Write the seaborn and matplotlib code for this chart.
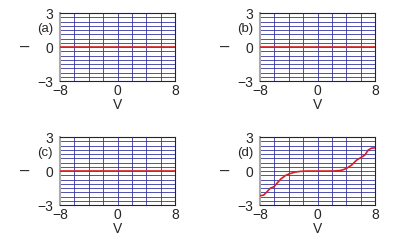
import numpy as np
import pandas as pd
import matplotlib
matplotlib.use("Agg")
import matplotlib.pyplot as plt
from matplotlib.ticker import MultipleLocator
import seaborn as sns

# 4パネル共通の電圧軸
voltage = [-8, -7.5, -7, -6.6, -6.05, -5.7, -5.1, -4.5, -3.9, -3.1, -2.4, -1.5, -0.5,
           0, 0.5, 1.5, 2.4, 3.1, 3.6, 4.05, 4.75, 5.45, 6.05, 6.6, 7.05, 7.5, 8]

# パネル (a)(b)(c) はゼロ、(d) は階段状の曲線
current_a = [0.0] * len(voltage)
current_b = [0.0] * len(voltage)
current_c = [0.0] * len(voltage)
current_d = [-2.18, -2.13, -1.82, -1.53, -1.38, -1.12, -0.7, -0.41, -0.24, -0.09, -0.03,
             0.0, 0.0, 0.0, 0.0, 0.0, 0.01, 0.04, 0.12, 0.24, 0.53, 0.97, 1.2, 1.42,
             1.85, 2.02, 2.05]

panel_labels = ["(a)", "(b)", "(c)", "(d)"]
x_ticks = [-8, 0, 8]
y_ticks = [-3, 0, 3]

sns.set_style("white")
plt.rcParams['font.family'] = ['Liberation Sans', 'DejaVu Sans']
plt.rcParams['axes.unicode_minus'] = True

fig = plt.figure(figsize=(4, 2.47), dpi=100)

# 各パネルの位置 [left, bottom, width, height]（図の比率）
positions = [
    [0.15, 0.672, 0.2875, 0.275],
    [0.65, 0.672, 0.2875, 0.275],
    [0.15, 0.170, 0.2875, 0.275],
    [0.65, 0.170, 0.2875, 0.275],
]

grid_color = '#3434a0'
all_currents = [current_a, current_b, current_c, current_d]

for pos, label, cur in zip(positions, panel_labels, all_currents):
    ax = fig.add_axes(pos)
    df = pd.DataFrame({'V': voltage, 'I': cur})
    sns.lineplot(data=df, x='V', y='I', ax=ax, color='#d42020', linewidth=1.2, zorder=3)

    ax.set_xlim(-8, 8)
    ax.set_ylim(-3, 3)
    ax.set_xticks(x_ticks)
    ax.set_yticks(y_ticks)
    ax.xaxis.set_minor_locator(MultipleLocator(2))
    ax.yaxis.set_minor_locator(MultipleLocator(0.375))
    ax.grid(True, which='both', color=grid_color, linewidth=0.6)
    ax.tick_params(which='both', length=0, labelsize=10)
    ax.tick_params(axis='y', pad=5)
    ax.tick_params(axis='x', pad=2)

    for side in ['top', 'right', 'bottom']:
        ax.spines[side].set_color('#202050')
        ax.spines[side].set_linewidth(0.8)
    ax.spines['left'].set_color('#aaaaaa')
    ax.spines['left'].set_linewidth(1.5)

    ax.set_xlabel("V", fontsize=10, labelpad=0)
    ax.set_ylabel("")
    ax.text(-0.31, 0.5, "\u2013", transform=ax.transAxes, fontsize=12,
            ha='center', va='center')
    ax.text(-0.06, 0.77, label, transform=ax.transAxes, fontsize=9.5,
            ha='right', va='center')

plt.savefig('out.png', dpi=100)
